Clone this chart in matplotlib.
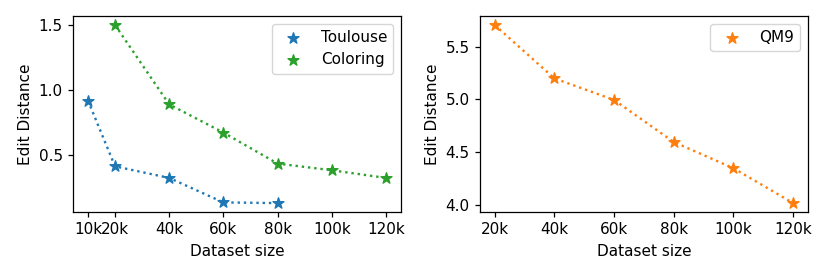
import matplotlib
matplotlib.use("Agg")
import matplotlib.pyplot as plt

plt.rcParams["font.size"] = 11

toulouse_x = [10000, 20000, 40000, 60000, 80000]
toulouse_y = [0.92, 0.415, 0.326, 0.138, 0.133]
coloring_x = [20000, 40000, 60000, 80000, 100000, 120000]
coloring_y = [1.50, 0.89, 0.674, 0.436, 0.385, 0.326]
qm9_x = [20000, 40000, 60000, 80000, 100000, 120000]
qm9_y = [5.705, 5.20, 4.996, 4.598, 4.35, 4.02]

left_ticks = [10000, 20000, 40000, 60000, 80000, 100000, 120000]
left_labels = ["10k", "20k", "40k", "60k", "80k", "100k", "120k"]
right_ticks = [20000, 40000, 60000, 80000, 100000, 120000]
right_labels = ["20k", "40k", "60k", "80k", "100k", "120k"]

fig = plt.figure(figsize=(8.3, 2.77), dpi=100)
ax1 = fig.add_axes([0.088, 0.2347, 0.395, 0.7073])
ax2 = fig.add_axes([0.578, 0.2347, 0.3955, 0.7073])

blue = "#1f77b4"
green = "#2ca02c"
orange = "#ff7f0e"

for ax in (ax1, ax2):
    for sp in ax.spines.values():
        sp.set_linewidth(0.9)
    ax.tick_params(width=0.9, length=3.8)

ax1.plot(toulouse_x, toulouse_y, ":", color=blue, lw=1.7)
ax1.scatter(toulouse_x, toulouse_y, marker="*", s=68, color=blue, label="Toulouse", zorder=3)
ax1.plot(coloring_x, coloring_y, ":", color=green, lw=1.7)
ax1.scatter(coloring_x, coloring_y, marker="*", s=68, color=green, label="Coloring", zorder=3)
ax1.set_xticks(left_ticks)
ax1.set_xticklabels(left_labels)
ax1.set_yticks([0.5, 1.0, 1.5])
ax1.set_xlabel("Dataset size", labelpad=5)
ax1.set_ylabel("Edit Distance")
ax1.legend(loc="upper right")

ax2.plot(qm9_x, qm9_y, ":", color=orange, lw=1.7)
ax2.scatter(qm9_x, qm9_y, marker="*", s=68, color=orange, label="QM9", zorder=3)
ax2.set_xticks(right_ticks)
ax2.set_xticklabels(right_labels)
ax2.set_yticks([4.0, 4.5, 5.0, 5.5])
ax2.set_xlabel("Dataset size", labelpad=5)
ax2.set_ylabel("Edit Distance")
ax2.legend(loc="upper right")

fig.savefig("out.png", dpi=100)
